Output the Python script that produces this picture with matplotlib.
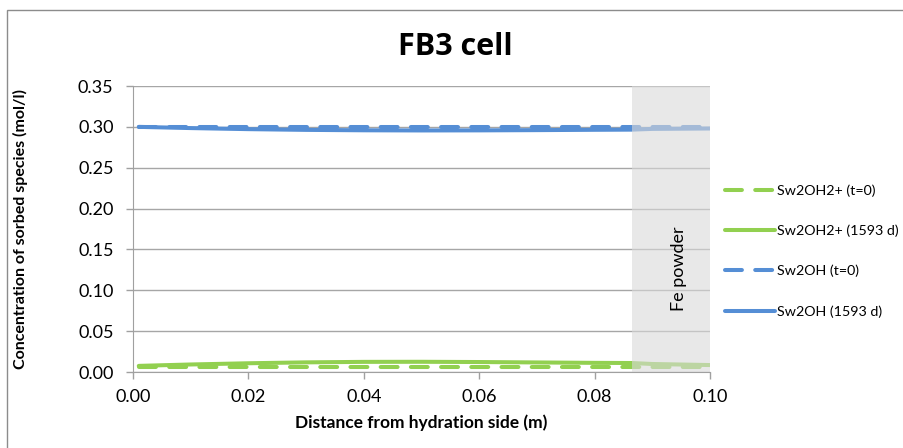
import matplotlib
matplotlib.use("Agg")
import matplotlib.pyplot as plt
from matplotlib.patches import Rectangle
from matplotlib.lines import Line2D

plt.rcParams['font.family'] = ['Lato', 'DejaVu Sans']

# distance from hydration side (m)
x = [0.001, 0.01, 0.02, 0.03, 0.04, 0.05, 0.06, 0.07, 0.08, 0.0864, 0.09, 0.1]

sw2oh2_t0 = [0.006] * len(x)
sw2oh2_1593 = [0.0075, 0.0092, 0.0107, 0.0118, 0.0124, 0.0125, 0.0122, 0.0117,
               0.0112, 0.0110, 0.0098, 0.0085]
sw2oh_t0 = [0.300] * len(x)
sw2oh_1593 = [0.3000, 0.2985, 0.2972, 0.2963, 0.2958, 0.2956, 0.2957, 0.2960,
              0.2964, 0.2966, 0.2975, 0.2980]

labels = ['Sw2OH2+ (t=0)', 'Sw2OH2+ (1593 d)', 'Sw2OH (t=0)', 'Sw2OH (1593 d)']
fe_start, fe_end = 0.0864, 0.10

green = '#92d050'
blue = '#558ed5'
dash = (0, (4.2, 3.3))

fig = plt.figure(figsize=(9.04, 4.48), dpi=100)
ax = fig.add_axes([133 / 904, 1 - 372 / 448, 577 / 904, 286 / 448])

lw = 2.9
kw = dict(lw=lw, solid_capstyle='round', dash_capstyle='round')
ax.plot(x, sw2oh2_t0, color=green, ls=dash, **kw)
ax.plot(x, sw2oh2_1593, color=green, **kw)
ax.plot(x, sw2oh_t0, color=blue, ls=dash, **kw)
ax.plot(x, sw2oh_1593, color=blue, **kw)

# Fe powder zone
ax.add_patch(Rectangle((fe_start, 0), fe_end - fe_start, 0.35, facecolor='#d9d9d9',
                       alpha=0.6, edgecolor='none', zorder=2.2))
ax.text((fe_start + fe_end) / 2 + 0.0015, 0.127, 'Fe powder', rotation=90,
        ha='center', va='center', fontsize=13, zorder=3)

ax.set_xlim(0, 0.10)
ax.set_ylim(0, 0.35)
ax.set_xticks([0, 0.02, 0.04, 0.06, 0.08, 0.10])
ax.set_yticks([0, 0.05, 0.10, 0.15, 0.20, 0.25, 0.30, 0.35])
ax.xaxis.set_major_formatter(matplotlib.ticker.FormatStrFormatter('%.2f'))
ax.yaxis.set_major_formatter(matplotlib.ticker.FormatStrFormatter('%.2f'))
ax.tick_params(direction='out', length=5, color='#a0a0a0', labelsize=13, width=1)
ax.tick_params(axis='y', pad=9)
ax.tick_params(axis='x', pad=7)
ax.grid(axis='y', color='#a6a6a6', lw=1)
ax.set_axisbelow(True)
for s in ['top', 'right']:
    ax.spines[s].set_visible(False)
for s in ['left', 'bottom']:
    ax.spines[s].set_color('#a0a0a0')

ax.set_xlabel('Distance from hydration side (m)', fontsize=12.5, fontweight='bold', labelpad=7)
ax.set_ylabel('Concentration of sorbed species (mol/l)', fontsize=11.5, fontweight='bold', labelpad=36)
fig.text(455 / 904, 1 - 47 / 448, 'FB3 cell', fontsize=22, fontweight='bold',
         ha='center', va='center', family=['Open Sans', 'DejaVu Sans'])

handles = [Line2D([], [], color=green, ls=dash, **kw),
           Line2D([], [], color=green, **kw),
           Line2D([], [], color=blue, ls=dash, **kw),
           Line2D([], [], color=blue, **kw)]
fig.legend(handles, labels, loc='center left', bbox_to_anchor=(712 / 904, 1 - 251 / 448),
           frameon=False, fontsize=10.3, handlelength=3.5, handletextpad=0.15,
           labelspacing=1.93)

# outer chart frame
fig.add_artist(Rectangle((7 / 904, -0.1), 1.1, 1 - 10 / 448 + 0.1, transform=fig.transFigure,
                         facecolor='none', edgecolor='#8c8c8c', lw=1))

fig.savefig('out.png', dpi=100)
